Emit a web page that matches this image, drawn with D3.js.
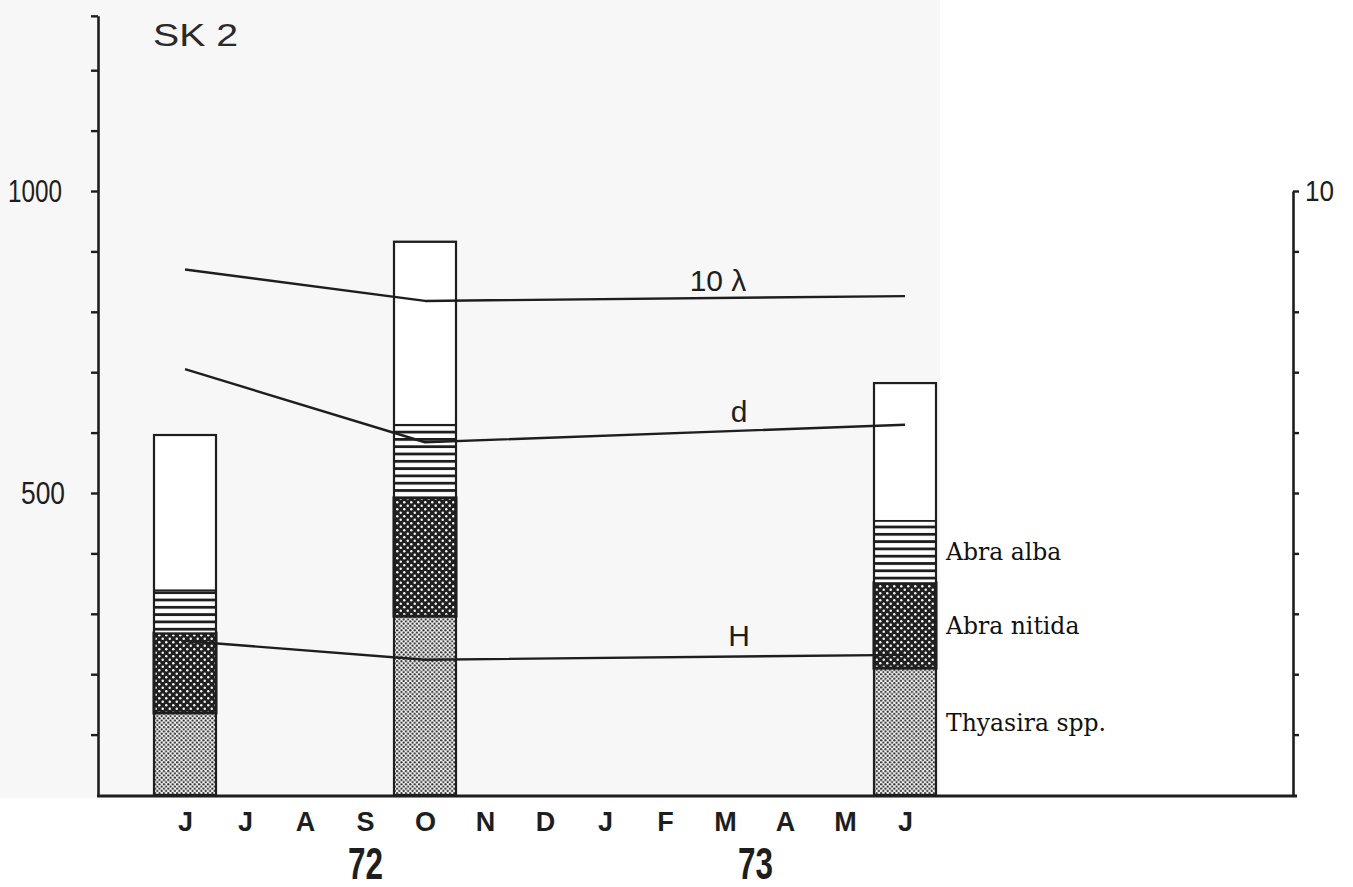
<!DOCTYPE html>
<html>
<head>
<meta charset="utf-8">
<script src="https://cdn.jsdelivr.net/npm/d3@7"></script>
<style>
  html, body { margin: 0; padding: 0; background: #ffffff; }
  svg { display: block; }
</style>
</head>
<body>
<svg id="chart" width="1353" height="887"></svg>
<script>
// Sampling months, June 1972 to June 1973
const months = ["Jun72","Jul72","Aug72","Sep72","Oct72","Nov72","Dec72","Jan73","Feb73","Mar73","Apr73","May73","Jun73"];
const monthLetters = ["J","J","A","S","O","N","D","J","F","M","A","M","J"];
const yearLabels = ["72", "73"];

// Sampling dates with stacked abundance (ind. per m²)
const samples = ["Jun72", "Oct72", "Jun73"];
const thyasira   = [136, 296, 210];
const abraNitida = [132, 196, 141];
const abraAlba   = [71, 121, 103];
const others     = [257, 303, 228];

// Diversity indices (right axis, 0–10)
const tenLambda = [8.70, 8.18, 8.26];
const margalefD = [7.05, 5.84, 6.13];
const shannonH  = [2.55, 2.24, 2.32];

const speciesNames = ["Thyasira spp.", "Abra nitida", "Abra alba"];
const leftTicks = [100,200,300,400,500,600,700,800,900,1000,1100,1200];
const leftLabelled = [500, 1000];
const rightTicks = [1,2,3,4,5,6,7,8,9,10];

const svg = d3.select("#chart");
const ink = "#1e1e1e";
const sans = "'Liberation Sans', 'DejaVu Sans', sans-serif";

// Page tone behind the plotting area
svg.append("rect").attr("x", 0).attr("y", 0).attr("width", 940).attr("height", 798).attr("fill", "#f7f7f7");

// Fill patterns
const defs = svg.append("defs");
const pHatch = defs.append("pattern").attr("id", "hatch").attr("patternUnits", "userSpaceOnUse")
  .attr("width", 8).attr("height", 7.3);
pHatch.append("rect").attr("width", 8).attr("height", 7.3).attr("fill", "#fff");
pHatch.append("rect").attr("y", 0).attr("width", 8).attr("height", 2.8).attr("fill", ink);

const pDark = defs.append("pattern").attr("id", "darkdots").attr("patternUnits", "userSpaceOnUse")
  .attr("width", 7).attr("height", 7);
pDark.append("rect").attr("width", 7).attr("height", 7).attr("fill", "#202020");
pDark.append("circle").attr("cx", 1.75).attr("cy", 1.75).attr("r", 1.25).attr("fill", "#f4f4f4");
pDark.append("circle").attr("cx", 5.25).attr("cy", 5.25).attr("r", 1.25).attr("fill", "#f4f4f4");

const pLight = defs.append("pattern").attr("id", "lightdots").attr("patternUnits", "userSpaceOnUse")
  .attr("width", 4.4).attr("height", 4.4);
pLight.append("rect").attr("width", 4.4).attr("height", 4.4).attr("fill", "#f4f4f4");
pLight.append("circle").attr("cx", 1.1).attr("cy", 1.1).attr("r", 1.1).attr("fill", "#2e2e2e");
pLight.append("circle").attr("cx", 3.3).attr("cy", 3.3).attr("r", 1.1).attr("fill", "#2e2e2e");

// Scales
const x = d3.scalePoint().domain(months).range([185, 905]);
const y = d3.scaleLinear().domain([0, 1000]).range([795, 191]);
const yRight = d3.scaleLinear().domain([0, 10]).range([795, 191]);
const yTop = 1290;

const axisLeftX = 98, axisRightX = 1293, baseY = 796;
const barW = 62;

// Stacked bars
const layers = [
  { key: "thyasira", values: thyasira, fill: "url(#lightdots)" },
  { key: "nitida", values: abraNitida, fill: "url(#darkdots)" },
  { key: "alba", values: abraAlba, fill: "url(#hatch)" },
  { key: "others", values: others, fill: "#ffffff" }
];
const table = samples.map((s, i) => {
  const row = { sample: s };
  layers.forEach(l => row[l.key] = l.values[i]);
  return row;
});
const stacked = d3.stack().keys(layers.map(l => l.key))(table);
const total = d => d.thyasira + d.nitida + d.alba + d.others;

const barG = svg.append("g");
stacked.forEach((series, li) => {
  barG.selectAll(null).data(series).join("rect")
    .attr("x", d => x(d.data.sample) - barW / 2)
    .attr("y", d => y(d[1]))
    .attr("width", barW)
    .attr("height", d => y(d[0]) - y(d[1]))
    .attr("fill", layers[li].fill)
    .attr("stroke", ink)
    .attr("stroke-width", li === 1 ? 3 : 1.6);
});
// Outline of each full bar
barG.selectAll(null).data(table).join("rect")
  .attr("x", d => x(d.sample) - barW / 2)
  .attr("y", d => y(total(d)))
  .attr("width", barW)
  .attr("height", d => y(0) - y(total(d)))
  .attr("fill", "none").attr("stroke", ink).attr("stroke-width", 2.2);

// Index lines
const lineGen = d3.line().x(d => x(d.s)).y(d => yRight(d.v));
const indexSeries = [
  { name: "10 λ", values: tenLambda, labelAt: 718, dy: -7 },
  { name: "d", values: margalefD, labelAt: 739, dy: -9 },
  { name: "H", values: shannonH, labelAt: 739, dy: -11 }
];
indexSeries.forEach(ser => {
  const pts = samples.map((s, i) => ({ s, v: ser.values[i] }));
  svg.append("path").datum(pts).attr("d", lineGen)
    .attr("fill", "none").attr("stroke", ink).attr("stroke-width", 2.4)
    .attr("stroke-linejoin", "round");
  // label sits above the final segment
  const x0 = x(samples[1]), x1 = x(samples[2]);
  const t = (ser.labelAt - x0) / (x1 - x0);
  const ly = yRight(ser.values[1]) + t * (yRight(ser.values[2]) - yRight(ser.values[1]));
  svg.append("text").attr("x", ser.labelAt).attr("y", ly + ser.dy)
    .attr("text-anchor", "middle")
    .attr("font-family", sans)
    .attr("font-size", 30).attr("fill", ink)
    .text(ser.name);
});

// Left axis
const yLeftAxisScale = d3.scaleLinear().domain([0, yTop]).range([y(0), y(yTop)]);
const leftAxis = d3.axisLeft(yLeftAxisScale)
  .tickValues(leftTicks.concat([yTop]))
  .tickSize(7).tickSizeOuter(0).tickPadding(29)
  .tickFormat(d => leftLabelled.includes(d) ? String(d) : "");
const gl = svg.append("g").attr("transform", `translate(${axisLeftX},0)`).call(leftAxis);
gl.select(".domain").attr("stroke", ink).attr("stroke-width", 2.6);
gl.selectAll(".tick line").attr("stroke", ink).attr("stroke-width", 2.4);
gl.selectAll(".tick text").attr("fill", ink)
  .attr("font-family", sans)
  .attr("font-size", 32)
  .each(function(d) {
    if (leftLabelled.includes(d)) {
      d3.select(this).attr("textLength", d === 1000 ? 54 : 44).attr("lengthAdjust", "spacingAndGlyphs");
    }
  });
gl.selectAll(".tick").filter(d => d === 500).select("text").attr("x", -33);

// Right axis
const rightAxis = d3.axisRight(yRight)
  .tickValues(rightTicks).tickSize(6).tickSizeOuter(0).tickPadding(6)
  .tickFormat(d => d === 10 ? "10" : "");
const gr = svg.append("g").attr("transform", `translate(${axisRightX},0)`).call(rightAxis);
gr.select(".domain").attr("stroke", ink).attr("stroke-width", 2.6);
gr.selectAll(".tick line").attr("stroke", ink).attr("stroke-width", 2.4);
gr.selectAll(".tick text").attr("fill", ink)
  .attr("font-family", sans)
  .attr("font-size", 30)
  .filter(d => d === 10).attr("textLength", 29).attr("lengthAdjust", "spacingAndGlyphs");

// Baseline and month axis
svg.append("line").attr("x1", axisLeftX - 1).attr("x2", axisRightX + 4)
  .attr("y1", baseY).attr("y2", baseY).attr("stroke", ink).attr("stroke-width", 2.8);
const bottomAxis = d3.axisBottom(x).tickSize(0).tickPadding(0)
  .tickFormat((d, i) => monthLetters[i]);
const gb = svg.append("g").attr("transform", `translate(0,${baseY})`).call(bottomAxis);
gb.select(".domain").remove();
gb.selectAll(".tick text").attr("fill", ink)
  .attr("y", 35).attr("dy", 0)
  .attr("font-family", sans)
  .attr("font-weight", "bold").attr("font-size", 27);

// Year labels
const yearX = [x("Sep72"), (x("Mar73") + x("Apr73")) / 2];
svg.selectAll(".year").data(yearLabels).join("text")
  .attr("class", "year")
  .attr("x", (d, i) => yearX[i] - 17).attr("y", 879)
  .attr("font-family", sans)
  .attr("font-weight", "bold").attr("font-size", 44).attr("fill", ink)
  .attr("textLength", 35).attr("lengthAdjust", "spacingAndGlyphs")
  .text(d => d);

// Station title
svg.append("text").attr("x", 153).attr("y", 46)
  .attr("font-family", sans)
  .attr("font-size", 32).attr("fill", "#2a2a2a")
  .attr("textLength", 85).attr("lengthAdjust", "spacingAndGlyphs")
  .text("SK 2");

// Species legend beside the last bar
const lastRow = table[table.length - 1];
const mids = [lastRow.thyasira / 2 + 14, lastRow.thyasira + lastRow.nitida / 2, lastRow.thyasira + lastRow.nitida + lastRow.alba / 2];
const legendX = x(samples[2]) + barW / 2 + 10;
svg.selectAll(".legend").data(speciesNames).join("text")
  .attr("class", "legend")
  .attr("x", legendX)
  .attr("y", (d, i) => y(mids[i]) + 8)
  .attr("font-family", "'DejaVu Serif', serif")
  .attr("font-size", 23.5).attr("fill", "#111")
  .text(d => d);
</script>
</body>
</html>
